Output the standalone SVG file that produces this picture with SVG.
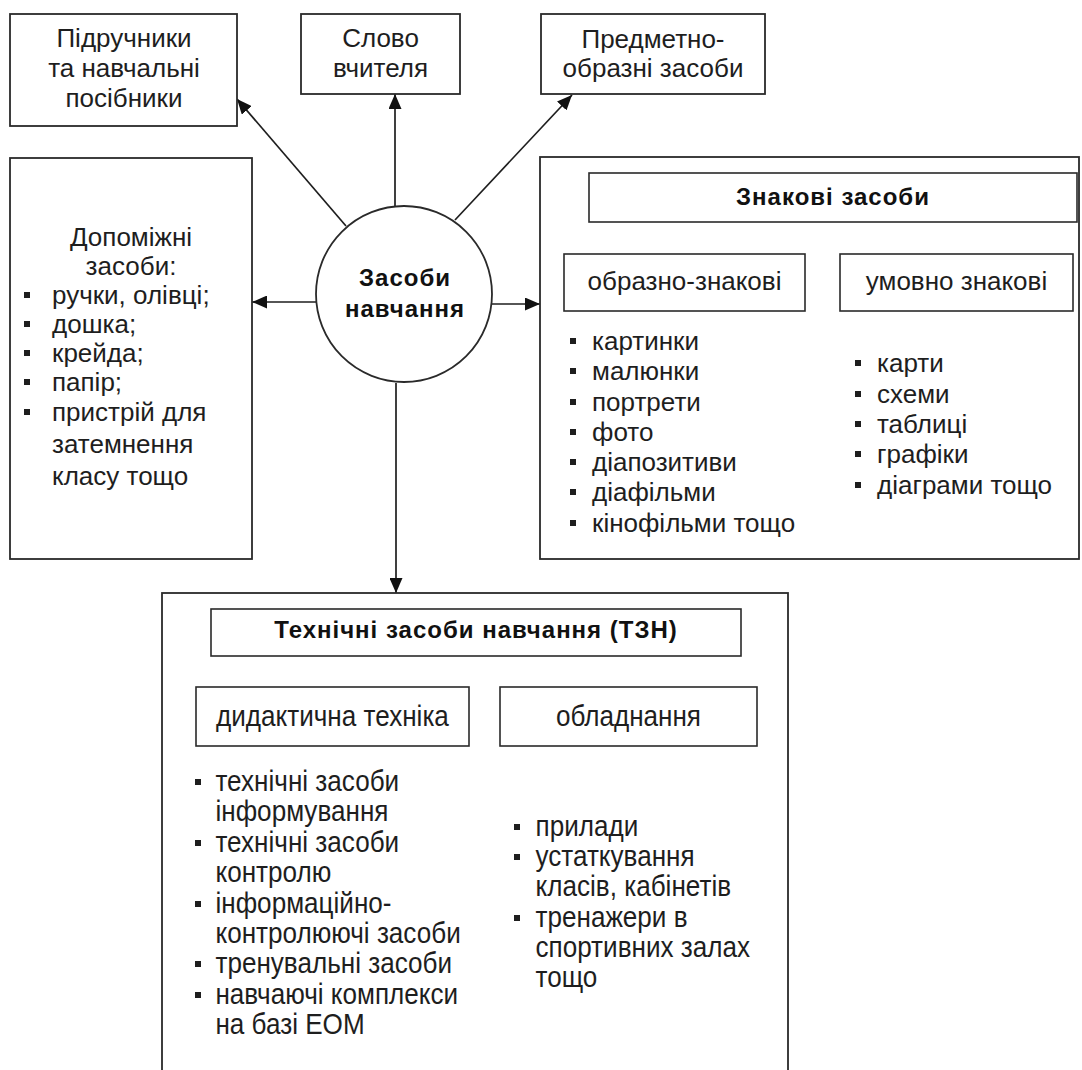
<svg xmlns="http://www.w3.org/2000/svg" width="1082" height="1070" viewBox="0 0 1082 1070">
<style>
.bg{fill:#fff}
.box{fill:#fff;stroke:#2a2a2a;stroke-width:1.8}
.ibox{fill:none;stroke:#2a2a2a;stroke-width:1.6}
.t{font-family:"Liberation Sans",Arial,"DejaVu Sans",sans-serif;font-size:26px;fill:#1e1e1e}
.n{font-size:29px}
.c{text-anchor:middle}
.b{font-weight:bold;font-size:24px;letter-spacing:1px;fill:#111}
.bul{fill:#1e1e1e}
.ln{fill:none;stroke:#1e1e1e;stroke-width:1.7}
.iln{fill:none;stroke:#2a2a2a;stroke-width:1.4}
</style>
<defs>
<marker id="ah" viewBox="0 0 15 13" refX="15" refY="6.5" markerWidth="15" markerHeight="13" markerUnits="userSpaceOnUse" orient="auto"><path d="M0,0 L15,6.5 L0,13 z" fill="#111"/></marker>
<marker id="av" viewBox="-11 -10 12 20" refX="0" refY="0" markerWidth="12" markerHeight="20" markerUnits="userSpaceOnUse" orient="auto"><path d="M-9,-9 L0,0 L-9,9" fill="none" stroke="#2a2a2a" stroke-width="1.4"/></marker>
</defs>
<rect class="bg" x="0" y="0" width="1082" height="1070"/>

<g id="connectors">
<line class="ln" x1="346" y1="226" x2="237" y2="99" marker-end="url(#ah)"/>
<line class="ln" x1="395" y1="207" x2="395" y2="94" marker-end="url(#ah)"/>
<line class="ln" x1="455" y1="220" x2="572" y2="95" marker-end="url(#ah)"/>
<line class="ln" x1="316" y1="302" x2="252" y2="302" marker-end="url(#ah)"/>
<line class="ln" x1="492" y1="304" x2="540" y2="304" marker-end="url(#ah)"/>
<line class="ln" x1="396" y1="383" x2="396" y2="593" marker-end="url(#ah)"/>
<line class="iln" x1="685" y1="222" x2="685" y2="254" marker-end="url(#av)"/>
<line class="iln" x1="953" y1="222" x2="953" y2="254" marker-end="url(#av)"/>
<line class="iln" x1="340" y1="656" x2="340" y2="687" marker-end="url(#av)"/>
<line class="iln" x1="612" y1="656" x2="612" y2="687" marker-end="url(#av)"/>
</g>

<g id="textbooks">
<rect class="box" x="10" y="14" width="227" height="112"/>
<text class="t c" x="124" y="47">Підручники</text>
<text class="t c" x="124" y="77">та навчальні</text>
<text class="t c" x="124" y="107">посібники</text>
</g>

<g id="teacher-word">
<rect class="box" x="301" y="14" width="159" height="80"/>
<text class="t c" x="380.5" y="47">Слово</text>
<text class="t c" x="380.5" y="77">вчителя</text>
</g>

<g id="object-means">
<rect class="box" x="541" y="14" width="224" height="80"/>
<text class="t c" x="653" y="48">Предметно-</text>
<text class="t c" x="653" y="77">образні засоби</text>
</g>

<g id="center">
<circle class="box" cx="404" cy="294" r="88"/>
<text class="t c b" x="405" y="286">Засоби</text>
<text class="t c b" x="405" y="317">навчання</text>
</g>

<g id="auxiliary">
<rect class="box" x="10" y="158" width="242" height="401"/>
<text class="t c" x="131" y="246">Допоміжні</text>
<text class="t c" x="131" y="275">засоби:</text>
<rect class="bul" x="24" y="292" width="6" height="6"/>
<text class="t" x="52" y="304">ручки, олівці;</text>
<rect class="bul" x="24" y="321" width="6" height="6"/>
<text class="t" x="52" y="333">дошка;</text>
<rect class="bul" x="24" y="350" width="6" height="6"/>
<text class="t" x="52" y="362">крейда;</text>
<rect class="bul" x="24" y="379" width="6" height="6"/>
<text class="t" x="52" y="391">папір;</text>
<rect class="bul" x="24" y="409" width="6" height="6"/>
<text class="t" x="52" y="421">пристрій для</text>
<text class="t" x="52" y="453">затемнення</text>
<text class="t" x="52" y="485">класу тощо</text>
</g>

<g id="sign-means">
<rect class="box" x="540" y="157" width="539" height="402"/>
<rect class="ibox" x="589" y="173" width="488" height="49"/>
<text class="t c b" x="833" y="205">Знакові засоби</text>
<rect class="ibox" x="564" y="254" width="241" height="57"/>
<text class="t c" x="684.5" y="290">образно-знакові</text>
<rect class="ibox" x="840" y="254" width="233" height="57"/>
<text class="t c" x="956.5" y="290">умовно знакові</text>
<rect class="bul" x="570" y="338" width="6" height="6"/>
<text class="t" x="592" y="350">картинки</text>
<rect class="bul" x="570" y="368" width="6" height="6"/>
<text class="t" x="592" y="380">малюнки</text>
<rect class="bul" x="570" y="399" width="6" height="6"/>
<text class="t" x="592" y="411">портрети</text>
<rect class="bul" x="570" y="429" width="6" height="6"/>
<text class="t" x="592" y="441">фото</text>
<rect class="bul" x="570" y="459" width="6" height="6"/>
<text class="t" x="592" y="471">діапозитиви</text>
<rect class="bul" x="570" y="489" width="6" height="6"/>
<text class="t" x="592" y="501">діафільми</text>
<rect class="bul" x="570" y="520" width="6" height="6"/>
<text class="t" x="592" y="532">кінофільми тощо</text>
<rect class="bul" x="855" y="360" width="6" height="6"/>
<text class="t" x="877" y="372">карти</text>
<rect class="bul" x="855" y="391" width="6" height="6"/>
<text class="t" x="877" y="403">схеми</text>
<rect class="bul" x="855" y="421" width="6" height="6"/>
<text class="t" x="877" y="433">таблиці</text>
<rect class="bul" x="855" y="451" width="6" height="6"/>
<text class="t" x="877" y="463">графіки</text>
<rect class="bul" x="855" y="482" width="6" height="6"/>
<text class="t" x="877" y="494">діаграми тощо</text>
</g>

<g id="technical-means">
<rect class="box" x="162" y="593" width="626" height="490"/>
<rect class="ibox" x="211" y="609" width="530" height="47"/>
<text class="t c b" x="476" y="638">Технічні засоби навчання (ТЗН)</text>
<rect class="ibox" x="196" y="687" width="273" height="59"/>
<rect class="ibox" x="500" y="687" width="257" height="59"/>
<rect class="bul" x="195" y="779" width="6" height="6"/>
<rect class="bul" x="195" y="840" width="6" height="6"/>
<rect class="bul" x="195" y="901" width="6" height="6"/>
<rect class="bul" x="195" y="961" width="6" height="6"/>
<rect class="bul" x="195" y="992" width="6" height="6"/>
<rect class="bul" x="514" y="824" width="6" height="6"/>
<rect class="bul" x="514" y="854" width="6" height="6"/>
<rect class="bul" x="514" y="915" width="6" height="6"/>
<g transform="scale(0.9,1)">
<text class="t n c" x="369.4" y="726">дидактична техніка</text>
<text class="t n c" x="698.3" y="726">обладнання</text>
<text class="t n" x="239.4" y="791">технічні засоби</text>
<text class="t n" x="239.4" y="821">інформування</text>
<text class="t n" x="239.4" y="852">технічні засоби</text>
<text class="t n" x="239.4" y="882">контролю</text>
<text class="t n" x="239.4" y="913">інформаційно-</text>
<text class="t n" x="239.4" y="943">контролюючі засоби</text>
<text class="t n" x="239.4" y="973">тренувальні засоби</text>
<text class="t n" x="239.4" y="1004">навчаючі комплекси</text>
<text class="t n" x="239.4" y="1034">на базі ЕОМ</text>
<text class="t n" x="595" y="836">прилади</text>
<text class="t n" x="595" y="866">устаткування</text>
<text class="t n" x="595" y="896">класів, кабінетів</text>
<text class="t n" x="595" y="927">тренажери в</text>
<text class="t n" x="595" y="957">спортивних залах</text>
<text class="t n" x="595" y="987">тощо</text>
</g>
</g>
</svg>
